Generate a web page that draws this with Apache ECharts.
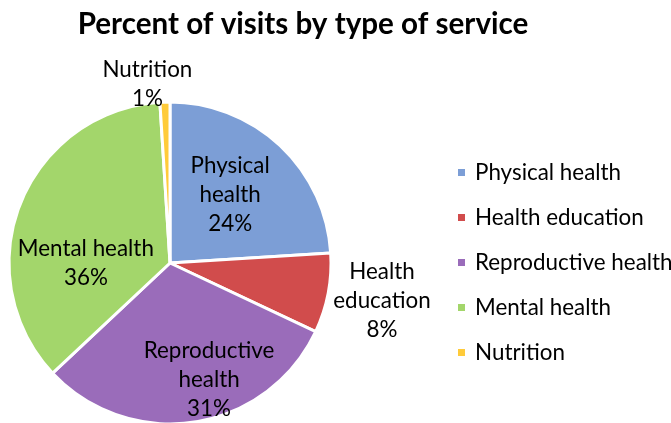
<!DOCTYPE html>
<html>
<head>
<meta charset="utf-8">
<script src="https://cdn.jsdelivr.net/npm/echarts@6/dist/echarts.min.js"></script>
<style>
  html, body { margin: 0; padding: 0; background: #fff; }
  #chart { width: 671px; height: 423px; }
</style>
</head>
<body>
<div id="chart"></div>
<script>
// Service types and their share of visits (%)
const categories = ['Physical health', 'Health education', 'Reproductive health', 'Mental health', 'Nutrition'];
const shares = [24, 8, 31, 36, 1];
// Text shown in each slice label (line-broken names)
const labelNames = ['Physical\nhealth', 'Health\neducation', 'Reproductive\nhealth', 'Mental health', 'Nutrition'];

const colors = ['#7C9ED6', '#D14C4C', '#9A6CBA', '#A3D66B', '#FFCB3A'];
// Nudges moving each label from the slice's inner anchor point
const labelNudge = [[3, -7], [130, 22], [26, 34], [-6.5, 31], [-20, -95]];

const FONT = 'Lato';

const chart = echarts.init(document.getElementById('chart'), null, { renderer: 'canvas' });

chart.setOption({
  animation: false,
  color: colors,
  title: {
    text: 'Percent of visits by type of service',
    left: 298,
    top: 4,
    textAlign: 'center',
    textStyle: { fontFamily: FONT, fontWeight: 'bold', fontSize: 29.6, color: '#000' }
  },
  legend: {
    orient: 'vertical',
    left: 456,
    top: 161,
    padding: 0,
    itemWidth: 9,
    itemHeight: 9,
    itemGap: 22,
    icon: 'rect',
    data: categories,
    textStyle: { fontFamily: FONT, fontSize: 22.4, lineHeight: 23, color: '#000', padding: [0, 0, 0, 4] }
  },
  series: [{
    type: 'pie',
    center: [170, 263],
    radius: [0, 161],
    startAngle: 90,
    clockwise: true,
    data: categories.map((name, i) => ({
      name: name,
      value: shares[i],
      label: { formatter: labelNames[i] + '\n' + shares[i] + '%' }
    })),
    itemStyle: { borderColor: '#fff', borderWidth: 3 },
    label: {
      show: true,
      position: 'inside',
      fontFamily: FONT,
      fontSize: 22.4,
      lineHeight: 29,
      color: '#000',
      align: 'center'
    },
    labelLine: { show: false },
    labelLayout: function (params) {
      const n = labelNudge[params.dataIndex];
      return { dx: n[0], dy: n[1] };
    },
    emphasis: { disabled: true }
  }]
});
</script>
</body>
</html>
